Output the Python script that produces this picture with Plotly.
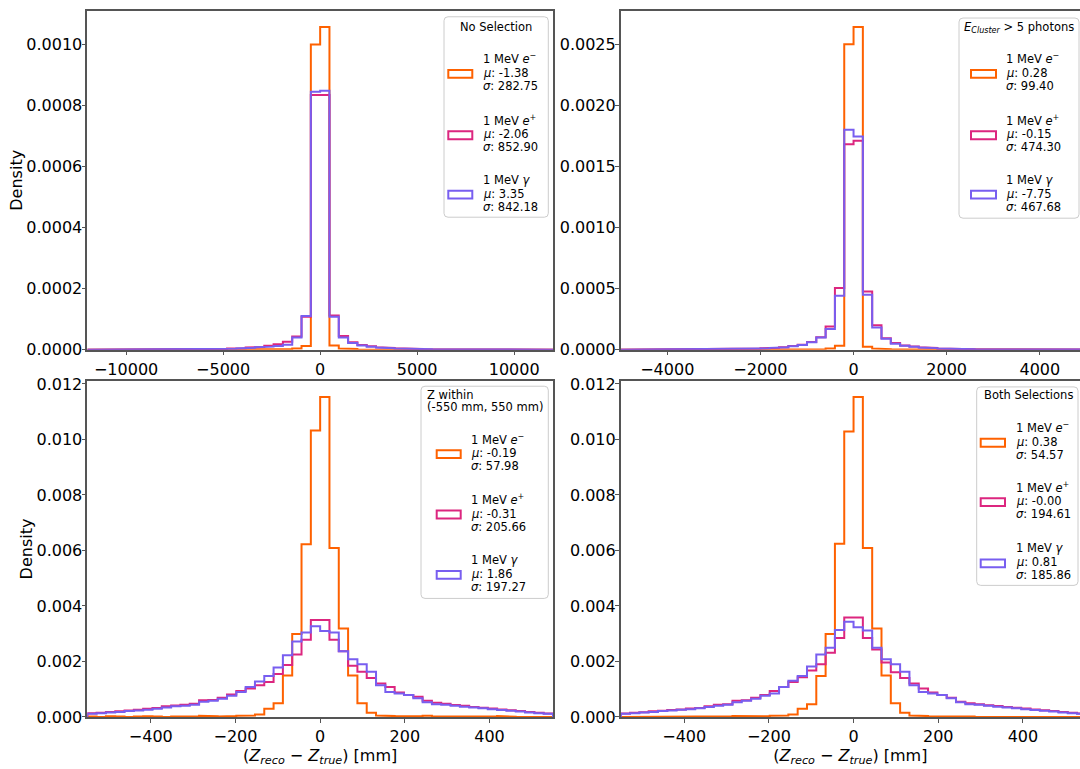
import numpy as np
import plotly.graph_objects as go

# ---------------------------------------------------------------------------
# Histogram binning (50 bins per panel)
# ---------------------------------------------------------------------------
EDGES_NOSEL = np.linspace(-12000, 12000, 51)    # no selection
EDGES_CLUSTER = np.linspace(-5000, 5000, 51)    # E_cluster > 5 photons
EDGES_ZWIN = np.linspace(-550, 550, 51)         # Z within (-550, 550) mm
EDGES_BOTH = np.linspace(-550, 550, 51)         # both selections

PARTICLES = ["e-", "e+", "gamma"]
LABELS = ["1 MeV <i>e</i><sup>−</sup>", "1 MeV <i>e</i><sup>+</sup>", "1 MeV <i>γ</i>"]
COLORS = ["#FE6100", "#DC267F", "#785EF0"]

# ---------------------------------------------------------------------------
# Densities per bin
# ---------------------------------------------------------------------------
NOSEL_EM = [0, 0, 0, 0, 0, 0, 0, 0, 0, 0,
            0, 0, 0, 0, 0, 0, 0, 0, 0, 1e-6,
            1e-6, 2e-6, 4e-6, 1.2e-5, 1.0e-3, 1.057e-3, 1.4e-5, 4e-6, 2e-6, 1e-6,
            1e-6, 0, 0, 0, 0, 0, 0, 0, 0, 0,
            0, 0, 0, 0, 0, 0, 0, 0, 0, 0]
NOSEL_EP = [1e-7, 1e-7, 1e-7, 1e-7, 2e-7, 2e-7, 2e-7, 3e-7, 3e-7, 4e-7,
            5e-7, 8e-7, 1.2e-6, 1.8e-6, 2.6e-6, 3.6e-6, 5e-6, 7e-6, 9e-6, 1.3e-5,
            1.8e-5, 2.6e-5, 4.3e-5, 1.08e-4, 8.34e-4, 8.34e-4, 1.12e-4, 4.5e-5, 2.4e-5, 1.5e-5,
            1.1e-5, 8e-6, 6e-6, 4.5e-6, 3.2e-6, 2.4e-6, 1.7e-6, 1.2e-6, 8e-7, 5e-7,
            4e-7, 3e-7, 3e-7, 2e-7, 2e-7, 2e-7, 1e-7, 1e-7, 1e-7, 1e-7]
NOSEL_GAMMA = [1e-7, 1e-7, 1e-7, 1e-7, 2e-7, 2e-7, 2e-7, 3e-7, 3e-7, 4e-7,
               5e-7, 7e-7, 1e-6, 1.5e-6, 2.2e-6, 3e-6, 4.2e-6, 6e-6, 8e-6, 1.0e-5,
               1.2e-5, 1.6e-5, 4.0e-5, 1.10e-4, 8.45e-4, 8.48e-4, 1.08e-4, 4.0e-5, 2.2e-5, 1.4e-5,
               1.0e-5, 7e-6, 5e-6, 4e-6, 3e-6, 2.2e-6, 1.6e-6, 1.1e-6, 8e-7, 5e-7,
               4e-7, 3e-7, 3e-7, 2e-7, 2e-7, 2e-7, 1e-7, 1e-7, 1e-7, 1e-7]

CLUSTER_EM = [0, 0, 0, 0, 0, 0, 0, 0, 0, 0,
              0, 0, 0, 0, 0, 0, 0, 0, 1e-6, 1e-6,
              1e-6, 3e-6, 1e-5, 3.2e-5, 2.50e-3, 2.64e-3, 2.4e-5, 1e-5, 4e-6, 2e-6,
              1e-6, 1e-6, 0, 0, 0, 0, 0, 0, 0, 0,
              0, 0, 0, 0, 0, 0, 0, 0, 0, 0]
CLUSTER_EP = [5e-7, 5e-7, 7e-7, 8e-7, 1e-6, 1.2e-6, 1.5e-6, 1.8e-6, 2.2e-6, 2.6e-6,
              3e-6, 4e-6, 5e-6, 7e-6, 9e-6, 1.2e-5, 1.6e-5, 2.1e-5, 3.0e-5, 4.0e-5,
              6.2e-5, 1.02e-4, 1.9e-4, 5.04e-4, 1.68e-3, 1.71e-3, 4.77e-4, 2.0e-4, 9.4e-5, 5.4e-5,
              3.5e-5, 2.7e-5, 2.0e-5, 1.4e-5, 1.0e-5, 8e-6, 6e-6, 4.5e-6, 3.5e-6, 2.5e-6,
              2e-6, 1.6e-6, 1.3e-6, 1.1e-6, 1e-6, 8e-7, 7e-7, 6e-7, 5e-7, 5e-7]
CLUSTER_GAMMA = [5e-7, 5e-7, 7e-7, 8e-7, 1e-6, 1.2e-6, 1.5e-6, 1.8e-6, 2.2e-6, 2.6e-6,
                 3e-6, 3.8e-6, 4.8e-6, 6.5e-6, 8.5e-6, 1.1e-5, 1.5e-5, 2.0e-5, 2.8e-5, 3.8e-5,
                 6.0e-5, 1.0e-4, 1.69e-4, 4.42e-4, 1.80e-3, 1.745e-3, 4.5e-4, 1.82e-4, 9.0e-5, 4.8e-5,
                 3.3e-5, 2.5e-5, 1.8e-5, 1.3e-5, 1.0e-5, 7.5e-6, 5.5e-6, 4.2e-6, 3.2e-6, 2.4e-6,
                 2e-6, 1.6e-6, 1.3e-6, 1.1e-6, 1e-6, 8e-7, 7e-7, 6e-7, 5e-7, 5e-7]

ZWIN_EM = [1e-5, 0, 2e-5, 1e-5, 0, 1e-5, 2e-5, 1e-5, 0, 1e-5,
           1e-5, 1e-5, 4e-5, 2e-5, 1e-5, 3e-5, 4e-5, 5e-5, 9e-5, 2.9e-4,
           4.9e-4, 1.49e-3, 2.99e-3, 6.22e-3, 1.032e-2, 1.153e-2, 6.09e-3, 3.19e-3, 1.49e-3, 4.9e-4,
           1.5e-4, 5e-5, 3e-5, 2e-5, 1e-5, 3e-5, 4e-5, 1e-5, 1e-5, 0,
           2e-5, 1e-5, 0, 1e-5, 3e-5, 1e-5, 0, 1e-5, 1e-5, 0]
ZWIN_EP = [1.3e-4, 1.5e-4, 1.8e-4, 2.0e-4, 2.3e-4, 2.6e-4, 2.9e-4, 3.2e-4, 3.8e-4, 4.1e-4,
           4.4e-4, 4.7e-4, 6.0e-4, 6.1e-4, 6.9e-4, 8.1e-4, 9.3e-4, 1.02e-3, 1.14e-3, 1.26e-3,
           1.55e-3, 1.87e-3, 2.25e-3, 2.78e-3, 3.49e-3, 3.49e-3, 2.78e-3, 2.37e-3, 1.84e-3, 1.63e-3,
           1.40e-3, 1.20e-3, 1.08e-3, 8.8e-4, 7.9e-4, 7.3e-4, 5.8e-4, 5.1e-4, 4.7e-4, 4.3e-4,
           4.0e-4, 3.6e-4, 3.3e-4, 3.0e-4, 2.7e-4, 2.4e-4, 2.1e-4, 1.8e-4, 1.5e-4, 1.2e-4]
ZWIN_GAMMA = [1.1e-4, 1.3e-4, 1.6e-4, 1.8e-4, 2.1e-4, 2.3e-4, 2.6e-4, 2.9e-4, 3.4e-4, 3.8e-4,
              4.0e-4, 4.4e-4, 5.5e-4, 5.8e-4, 6.5e-4, 7.6e-4, 9.0e-4, 1.08e-3, 1.28e-3, 1.47e-3,
              1.78e-3, 2.22e-3, 2.72e-3, 3.04e-3, 3.27e-3, 3.10e-3, 3.04e-3, 2.37e-3, 2.08e-3, 1.90e-3,
              1.63e-3, 1.14e-3, 9.0e-4, 8.4e-4, 7.9e-4, 6.7e-4, 5.3e-4, 4.6e-4, 4.4e-4, 4.0e-4,
              3.7e-4, 3.4e-4, 3.1e-4, 2.8e-4, 2.5e-4, 2.2e-4, 1.9e-4, 1.6e-4, 1.3e-4, 1.1e-4]

BOTH_EM = [0, 1e-5, 1e-5, 0, 1e-5, 2e-5, 1e-5, 1e-5, 0, 1e-5,
           1e-5, 2e-5, 3e-5, 1e-5, 1e-5, 2e-5, 4e-5, 5e-5, 9e-5, 2.9e-4,
           4.6e-4, 1.47e-3, 2.99e-3, 6.24e-3, 1.029e-2, 1.153e-2, 6.09e-3, 3.19e-3, 1.49e-3, 4.9e-4,
           1.5e-4, 5e-5, 3e-5, 1e-5, 1e-5, 2e-5, 3e-5, 1e-5, 0, 1e-5,
           2e-5, 0, 1e-5, 1e-5, 2e-5, 0, 1e-5, 0, 1e-5, 0]
BOTH_EP = [1.2e-4, 1.5e-4, 1.7e-4, 2.0e-4, 2.2e-4, 2.5e-4, 2.7e-4, 3.0e-4, 3.2e-4, 3.8e-4,
           4.4e-4, 4.6e-4, 5.8e-4, 6.0e-4, 6.9e-4, 7.9e-4, 9.3e-4, 1.08e-3, 1.26e-3, 1.43e-3,
           1.67e-3, 1.90e-3, 2.31e-3, 2.84e-3, 3.58e-3, 3.58e-3, 2.84e-3, 2.43e-3, 1.96e-3, 1.61e-3,
           1.40e-3, 1.20e-3, 1.02e-3, 8.8e-4, 7.9e-4, 6.9e-4, 5.5e-4, 4.9e-4, 4.6e-4, 4.2e-4,
           3.9e-4, 3.6e-4, 3.3e-4, 3.0e-4, 2.7e-4, 2.4e-4, 2.1e-4, 1.8e-4, 1.5e-4, 1.2e-4]
BOTH_GAMMA = [1.1e-4, 1.3e-4, 1.6e-4, 1.8e-4, 2.1e-4, 2.3e-4, 2.6e-4, 2.8e-4, 3.1e-4, 3.6e-4,
              4.0e-4, 4.4e-4, 5.3e-4, 5.8e-4, 6.5e-4, 7.6e-4, 8.4e-4, 1.08e-3, 1.30e-3, 1.47e-3,
              1.82e-3, 2.25e-3, 2.49e-3, 3.13e-3, 3.43e-3, 3.23e-3, 3.11e-3, 2.49e-3, 2.08e-3, 1.90e-3,
              1.63e-3, 1.14e-3, 9.0e-4, 8.4e-4, 7.9e-4, 6.7e-4, 5.3e-4, 4.6e-4, 4.4e-4, 4.0e-4,
              3.7e-4, 3.4e-4, 3.1e-4, 2.8e-4, 2.5e-4, 2.2e-4, 1.9e-4, 1.6e-4, 1.3e-4, 1.1e-4]

# Fit summary shown in each legend (e-, e+, gamma)
MU_NOSEL = [-1.38, -2.06, 3.35]
SIGMA_NOSEL = [282.75, 852.90, 842.18]
MU_CLUSTER = [0.28, -0.15, -7.75]
SIGMA_CLUSTER = [99.40, 474.30, 467.68]
MU_ZWIN = [-0.19, -0.31, 1.86]
SIGMA_ZWIN = [57.98, 205.66, 197.27]
MU_BOTH = [0.38, -0.00, 0.81]
SIGMA_BOTH = [54.57, 194.61, 185.86]

# ---------------------------------------------------------------------------
# Page geometry and style
# ---------------------------------------------------------------------------
W, H = 1080, 769
FONT = "DejaVu Sans"
SPINE = "#555555"


def px(p):
    return p / W


def py(p):
    return 1 - p / H


LEFT_X = (87.3, 553.0)
RIGHT_X0 = 620.7
PANEL_W = LEFT_X[1] - LEFT_X[0]
TOP_Y = (5.0, 351.0)
BOT_Y = (383.0, 726.0)
VISIBLE = (W - RIGHT_X0) / PANEL_W   # right column runs past the page edge


def step_xy(edges, vals):
    edges = np.asarray(edges, dtype=float)
    vals = np.asarray(vals, dtype=float)
    x = np.repeat(edges, 2)
    y = np.concatenate([[0.0], np.repeat(vals, 2), [0.0]])
    return x, y


panels = [
    dict(ax="", edges=EDGES_NOSEL, series=[NOSEL_EM, NOSEL_EP, NOSEL_GAMMA],
         mu=MU_NOSEL, sigma=SIGMA_NOSEL, col="left", row="top", xdtick=5000,
         ydtick=0.0002, yfmt=".4f"),
    dict(ax="2", edges=EDGES_CLUSTER, series=[CLUSTER_EM, CLUSTER_EP, CLUSTER_GAMMA],
         mu=MU_CLUSTER, sigma=SIGMA_CLUSTER, col="right", row="top", xdtick=2000,
         ydtick=0.0005, yfmt=".4f"),
    dict(ax="3", edges=EDGES_ZWIN, series=[ZWIN_EM, ZWIN_EP, ZWIN_GAMMA],
         mu=MU_ZWIN, sigma=SIGMA_ZWIN, col="left", row="bot", xdtick=200,
         ydtick=0.002, yfmt=".3f"),
    dict(ax="4", edges=EDGES_BOTH, series=[BOTH_EM, BOTH_EP, BOTH_GAMMA],
         mu=MU_BOTH, sigma=SIGMA_BOTH, col="right", row="bot", xdtick=200,
         ydtick=0.002, yfmt=".3f"),
]

fig = go.Figure()
layout = dict(
    width=W, height=H, autosize=False,
    margin=dict(l=0, r=0, t=0, b=0),
    paper_bgcolor="white", plot_bgcolor="white",
    showlegend=False,
    font=dict(family=FONT, size=16, color="black"),
)

XTITLE = "(<i>Z</i><sub><i>reco</i></sub> − <i>Z</i><sub><i>true</i></sub>) [mm]"

for p in panels:
    xa, ya = "x" + p["ax"], "y" + p["ax"]
    for vals, color in zip(p["series"], COLORS):
        x, y = step_xy(p["edges"], vals)
        fig.add_trace(go.Scatter(
            x=x, y=y, mode="lines", xaxis=xa, yaxis=ya,
            line=dict(color=color, width=2), hoverinfo="skip",
        ))

    lo, hi = float(p["edges"][0]), float(p["edges"][-1])
    if p["col"] == "left":
        xdom = [px(LEFT_X[0]), px(LEFT_X[1])]
        xrange = [lo, hi]
    else:
        xdom = [px(RIGHT_X0), 1.0]
        xrange = [lo, lo + (hi - lo) * VISIBLE]
    ydom = [py(TOP_Y[1]), py(TOP_Y[0])] if p["row"] == "top" else [py(BOT_Y[1]), py(BOT_Y[0])]
    ymax = 1.05 * max(max(s) for s in p["series"])

    axis_common = dict(
        showline=True, linecolor=SPINE, linewidth=1.6,
        ticks="outside", ticklen=4, tickwidth=1.4, tickcolor=SPINE,
        showgrid=False, zeroline=False,
        tickfont=dict(family=FONT, size=16, color="black"),
    )
    xaxis = dict(axis_common, domain=xdom, range=xrange, anchor=ya,
                 tick0=0, dtick=p["xdtick"], tickformat="d", mirror=True)
    yaxis = dict(axis_common, domain=ydom, range=[0, ymax], anchor=xa,
                 tick0=0, dtick=p["ydtick"], tickformat=p["yfmt"],
                 ticklabelstandoff=-4, mirror=(p["col"] == "left"))
    if p["row"] == "bot":
        xaxis["title"] = dict(text=XTITLE, font=dict(family=FONT, size=16), standoff=2)
    if p["col"] == "left":
        yaxis["title"] = dict(text="Density", font=dict(family=FONT, size=16), standoff=0)
    layout["xaxis" + p["ax"]] = xaxis
    layout["yaxis" + p["ax"]] = yaxis

fig.update_layout(**layout)

# ---------------------------------------------------------------------------
# Legends: framed boxes with outlined patches and three-line entries
# ---------------------------------------------------------------------------
LEGENDS = [
    dict(box=(444.0, 11.0, 548.3, 215.7),
         title=[("No Selection", 496.0, 21.7, "center")],
         handle_x=(448.3, 472.3), text_x=481.7, mids=(68.3, 131.0, 191.7)),
    dict(box=(959.0, 12.3, 1079.0, 216.7),
         title=[("<i>E</i><sub><i>Cluster</i></sub> &gt; 5 photons", 963.3, 21.7, "left")],
         handle_x=(971.0, 996.0), text_x=1005.0, mids=(68.3, 131.0, 191.7)),
    dict(box=(421.0, 388.3, 548.3, 605.0),
         title=[("Z within", 425.5, 397.7, "left"), ("(-550 mm, 550 mm)", 425.5, 410.0, "left")],
         handle_x=(436.7, 460.7), text_x=470.0, mids=(456.7, 518.3, 580.0)),
    dict(box=(976.7, 389.0, 1078.0, 591.7),
         title=[("Both Selections", 1028.0, 397.7, "center")],
         handle_x=(980.7, 1005.0), text_x=1015.0, mids=(445.0, 505.7, 568.3)),
]
LEG_FONT = dict(family=FONT, size=11.5, color="black")
LINE_OFFSETS = (-14.3, 0.0, 13.3)   # label line carries a superscript


def rounded_box(x0, y0, x1, y1, r=4):
    pts = [
        f"M {px(x0 + r)},{py(y0)}", f"L {px(x1 - r)},{py(y0)}",
        f"Q {px(x1)},{py(y0)} {px(x1)},{py(y0 + r)}", f"L {px(x1)},{py(y1 - r)}",
        f"Q {px(x1)},{py(y1)} {px(x1 - r)},{py(y1)}", f"L {px(x0 + r)},{py(y1)}",
        f"Q {px(x0)},{py(y1)} {px(x0)},{py(y1 - r)}", f"L {px(x0)},{py(y0 + r)}",
        f"Q {px(x0)},{py(y0)} {px(x0 + r)},{py(y0)}", "Z",
    ]
    return " ".join(pts)


shapes, annotations = [], []
for p, leg in zip(panels, LEGENDS):
    shapes.append(dict(type="path", xref="paper", yref="paper", layer="above",
                       path=rounded_box(*leg["box"]),
                       fillcolor="rgba(255,255,255,0.8)",
                       line=dict(color="#cccccc", width=1)))
    for text, tx, ty, align in leg["title"]:
        annotations.append(dict(xref="paper", yref="paper", x=px(tx), y=py(ty),
                                text=text, showarrow=False, xanchor=align,
                                yanchor="middle", borderpad=0, font=LEG_FONT))
    for k, mid in enumerate(leg["mids"]):
        hx0, hx1 = leg["handle_x"]
        shapes.append(dict(type="rect", xref="paper", yref="paper", layer="above",
                           x0=px(hx0), x1=px(hx1), y0=py(mid + 5), y1=py(mid - 3),
                           fillcolor="rgba(0,0,0,0)",
                           line=dict(color=COLORS[k], width=2)))
        lines = [LABELS[k],
                 f"<i>μ</i>: {p['mu'][k]:.2f}",
                 f"<i>σ</i>: {p['sigma'][k]:.2f}"]
        for line, dy in zip(lines, LINE_OFFSETS):
            annotations.append(dict(xref="paper", yref="paper",
                                    x=px(leg["text_x"]), y=py(mid + dy),
                                    text=line, showarrow=False, xanchor="left",
                                    yanchor="middle", borderpad=0, font=LEG_FONT))

fig.update_layout(shapes=shapes, annotations=annotations)
fig.write_html("out.html")
